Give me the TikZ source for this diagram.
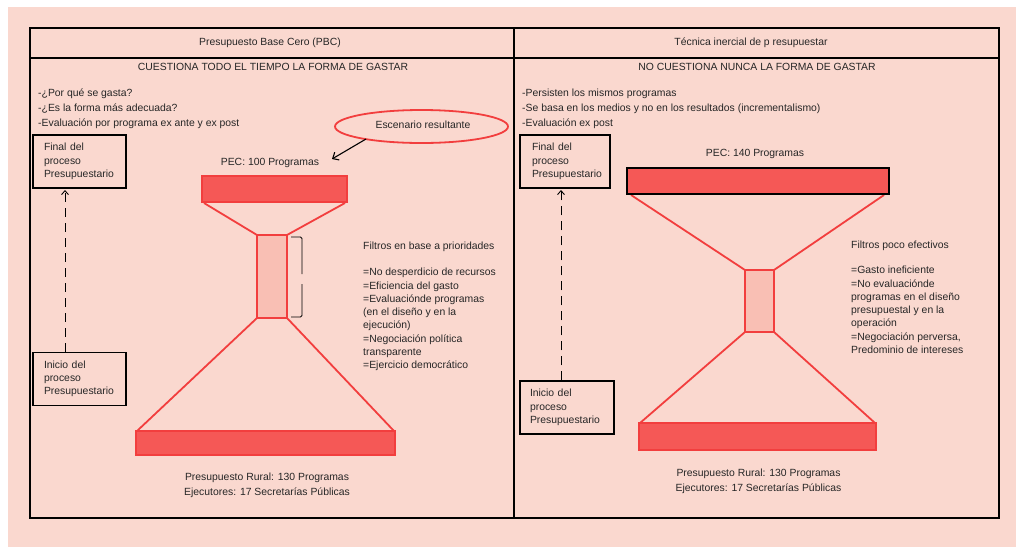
\documentclass[tikz,border=0pt]{standalone}
\usepackage{fontspec}
\setmainfont{Liberation Sans}
\usetikzlibrary{arrows.meta,shapes.geometric}
\definecolor{bgpink}{RGB}{250,216,207}
\definecolor{barred}{RGB}{245,88,86}
\definecolor{linered}{RGB}{242,62,62}
\definecolor{neckpink}{RGB}{249,191,180}
\begin{document}
\begin{tikzpicture}[x=1pt,y=-1pt,
    every node/.style={font=\fontsize{10.4}{13.3}\selectfont, text=black!85},
    txt/.style={anchor=west, inner sep=0pt, align=left},
    procbox/.style={draw=black, line width=1.4pt, minimum width=93pt, minimum height=53pt, text width=71pt, align=left, inner sep=0pt},
    bar/.style={fill=barred, draw=linered, line width=1.8pt},
    neck/.style={fill=neckpink, draw=linered, line width=1.8pt},
    funnel/.style={draw=linered, line width=1.8pt},
    flow/.style={-{Straight Barb[length=4pt,width=7pt]}, dash pattern=on 9pt off 6pt, line width=0.9pt}]
    \useasboundingbox (0,0) rectangle (1019,547);
    \fill[bgpink] (8,7) rectangle (1016,547);

    % tabla
    \draw[line width=1.3pt] (30,28) rectangle (999,518);
    \draw[line width=1.3pt] (514,28) -- (514,518);
    \draw[line width=1.3pt] (30,58) -- (999,58);
    \node (hPBC) at (270,43) {Presupuesto Base Cero (PBC)};
    \node (hTI) at (751,43) {Técnica inercial de p resupuestar};
    \node (sPBC) at (273,67) {CUESTIONA TODO EL TIEMPO LA FORMA DE GASTAR};
    \node (sTI) at (757,67) {NO CUESTIONA NUNCA LA FORMA DE GASTAR};

    % lado izquierdo
    \node[txt] (qL) at (38,109) {-¿Por qué se gasta?\\[1.7pt]-¿Es la forma más adecuada?\\[1.7pt]-Evaluación por programa ex ante y ex post};
    \node[procbox] (finL) at (79.5,161.5) {Final del\\proceso\\Presupuestario};
    \node[procbox] (iniL) at (79.5,379) {Inicio del\\proceso\\Presupuestario};
    \draw[flow] (iniL.north -| 65,0) -- (65,190);

    \node (pecL) at (270,163) {PEC: 100 Programas};
    \node[draw=linered, line width=1.8pt, ellipse, minimum width=173pt, minimum height=33pt] (escL) at (421.5,126.5) {};
    \node (escT) at (423,125) {Escenario resultante};
    \draw[-{Straight Barb[length=5pt,width=9pt]}, line width=1.1pt] (366,139) -- (332,159);

    \draw[funnel] (204,203) -- (257,235) (345,203) -- (287,235);
    \draw[funnel] (257,318) -- (137,431) (287,318) -- (394,431);
    \draw[bar] (202,176) rectangle (347,202);
    \draw[neck] (257,235) rectangle (287,318);
    \draw[bar] (136,431) rectangle (395,455);
    \draw[line width=0.9pt, rounded corners=1.5pt] (291,237) -- (302,237) -- (302,274);
    \draw[line width=0.9pt, rounded corners=1.5pt] (302,284) -- (302,317) -- (291,317);

    \node[txt] (filL) at (363,247) {Filtros en base a prioridades};
    \node[txt, anchor=north west] (listL) at (363,268) {=No desperdicio de recursos\\=Eficiencia del gasto\\=Evaluaciónde programas\\(en el diseño y en la\\ejecución)\\=Negociación política\\transparente\\=Ejercicio democrático};
    \node[align=center] (ruralL) at (267,485.5) {Presupuesto Rural: 130 Programas\\[1.7pt]Ejecutores: 17 Secretarías Públicas};

    % lado derecho
    \node[txt] (qR) at (522,109) {-Persisten los mismos programas\\[1.7pt]-Se basa en los medios y no en los resultados (incrementalismo)\\[1.7pt]-Evaluación ex post};
    \node[procbox, minimum width=90pt, text width=66pt] (finR) at (565,161.5) {Final del\\proceso\\Presupuestario};
    \node[procbox, minimum width=94pt, text width=74pt] (iniR) at (567,407.5) {Inicio del\\proceso\\Presupuestario};
    \draw[flow] (iniR.north -| 561,0) -- (561,190);

    \node (pecR) at (755,154) {PEC: 140 Programas};
    \draw[funnel] (631,195) -- (745,270) (884,195) -- (774,270);
    \draw[funnel] (745,332) -- (640,423) (774,332) -- (875,423);
    \draw[fill=barred, draw=black, line width=2.2pt] (627,168) rectangle (889,194);
    \draw[neck] (745,270) rectangle (774,332);
    \draw[bar] (639,423) rectangle (876,450);

    \node[txt] (filR) at (851,246) {Filtros poco efectivos};
    \node[txt, anchor=north west] (listR) at (851,266) {=Gasto ineficiente\\=No evaluaciónde\\programas en el diseño\\presupuestal y en la\\operación\\=Negociación perversa,\\Predominio de intereses};
    \node[align=center] (ruralR) at (758.5,481) {Presupuesto Rural: 130 Programas\\[1.7pt]Ejecutores: 17 Secretarías Públicas};
\end{tikzpicture}
\end{document}
